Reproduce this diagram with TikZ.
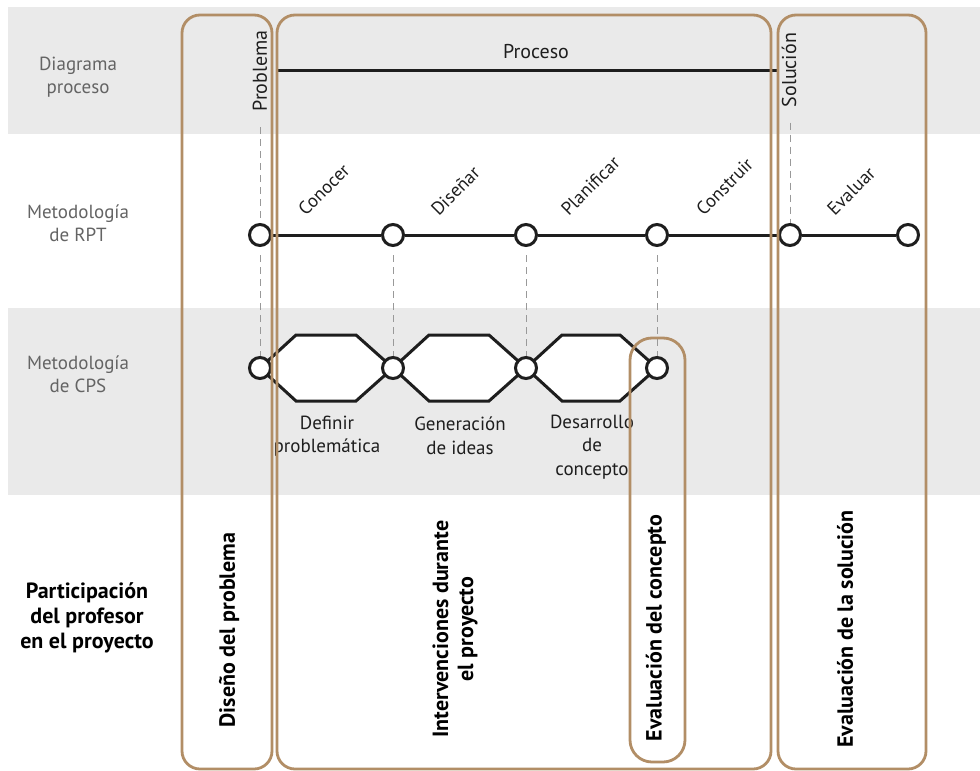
\documentclass[tikz,border=0pt]{standalone}
\usepackage{fontspec}
\setmainfont{PT Sans}
\usetikzlibrary{calc}
\definecolor{band}{RGB}{234,234,234}
\definecolor{tan}{RGB}{178,142,102}
\definecolor{lbl}{RGB}{100,100,100}
\definecolor{ink}{RGB}{30,30,30}
\begin{document}
\begin{tikzpicture}[x=1pt,y=-1pt,
  dot/.style={circle,draw=ink,fill=white,line width=3pt,minimum size=21pt,inner sep=0pt},
  track/.style={draw=ink,line width=3pt},
  guide/.style={draw=gray!80,line width=0.9pt,dash pattern=on 7pt off 5pt},
  frame/.style={draw=tan,line width=2.8pt,rounded corners=18pt},
  rowlbl/.style={text=lbl,font=\fontsize{19}{23}\selectfont,align=center},
  steplbl/.style={text=ink,font=\fontsize{18.5}{20}\selectfont,rotate=45,anchor=south west,inner sep=0pt},
  cpslbl/.style={text=ink,font=\fontsize{19}{23.5}\selectfont,align=center},
  vlbl/.style={text=ink,font=\fontsize{20}{22}\selectfont,rotate=90},
  boldlbl/.style={text=black,font=\bfseries\fontsize{22}{25}\selectfont,align=center}
]
\useasboundingbox (0,0) rectangle (980,771);
\fill[white] (0,0) rectangle (980,771);
\fill[band] (8,7) rectangle (980,134);
\fill[band] (8,308) rectangle (980,495);

% row labels
\node[rowlbl] (lDiag) at (78,77) {Diagrama\\proceso};
\node[rowlbl] (lRPT) at (78,223) {Metodología\\de RPT};
\node[rowlbl] (lCPS) at (78,374) {Metodología\\de CPS};
\node[boldlbl] (lPart) at (87,618) {Participación\\del profesor\\en el proyecto};

% process line
\coordinate (pstart) at (278,70);
\coordinate (pend) at (779,70);
\draw[track] (pstart) -- (pend);
\node[text=ink,font=\fontsize{20}{22}\selectfont] (proc) at (536,52) {Proceso};
\node[vlbl] (prob) at (260,71) {Problema};
\node[vlbl] (sol) at (789,70) {Solución};

% RPT
\node[dot] (r1) at (260,235) {};
\node[dot] (r2) at (393,235) {};
\node[dot] (r3) at (526,235) {};
\node[dot] (r4) at (657,235) {};
\node[dot] (r5) at (790,235) {};
\node[dot] (r6) at (908,235) {};
\draw[track] (r1) -- (r2) -- (r3) -- (r4) -- (r5) -- (r6);

\node[steplbl] (sCon) at ($(r1.center)+(46,-18)$) {Conocer};
\node[steplbl] (sDis) at ($(r2.center)+(46,-18)$) {Diseñar};
\node[steplbl] (sPla) at ($(r3.center)+(43,-18)$) {Planificar};
\node[steplbl] (sCons) at ($(r4.center)+(47,-18)$) {Construir};
\node[steplbl] (sEva) at ($(r5.center)+(45,-18)$) {Evaluar};

% CPS
\coordinate (k1) at (260,368);
\coordinate (k2) at (393,368);
\coordinate (k3) at (526,368);
\coordinate (k4) at (657,368);
\foreach \a/\b in {k1/k2,k2/k3,k3/k4}
  \filldraw[track,fill=white,line join=miter]
    (\a) -- ($(\a)+(36,-33)$) -- ($(\b)+(-37,-33)$) -- (\b)
    -- ($(\b)+(-37,33)$) -- ($(\a)+(36,33)$) -- cycle;
\node[dot] (c1) at (k1) {};
\node[dot] (c2) at (k2) {};
\node[dot] (c3) at (k3) {};
\node[dot] (c4) at (k4) {};

\node[cpslbl] (dDef) at (327,436) {Definir\\problemática};
\node[cpslbl] (dGen) at (460,436) {Generación\\de ideas};
\node[cpslbl] (dDes) at (592,447) {Desarrollo\\de\\concepto};

% guides
\draw[guide,shorten <=12pt] (prob.west) -- (r1);
\draw[guide,shorten <=12pt] (sol.west -| r5) -- (r5);
\draw[guide,shorten <=8pt] (r1) -- (c1);
\draw[guide,shorten <=8pt] (r2) -- (c2);
\draw[guide,shorten <=8pt] (r3) -- (c3);
\draw[guide,shorten <=8pt] (r4) -- (c4);

% frames
\draw[frame] (182,15) rectangle (272,769);
\draw[frame] (277,15) rectangle (771,769);
\draw[frame] (778,15) rectangle (926,769);
\draw[frame,rounded corners=22pt] (630,338) rectangle (685,762);

\node[boldlbl,rotate=90] (tDis) at (229,630) {Diseño del problema};
\node[boldlbl,rotate=90] (tInt) at (455,629) {Intervenciones durante\\el proyecto};
\node[boldlbl,rotate=90] (tEvc) at (656,628) {Evaluación del concepto};
\node[boldlbl,rotate=90] (tEvs) at (845,629) {Evaluación de la solución};
\end{tikzpicture}
\end{document}
